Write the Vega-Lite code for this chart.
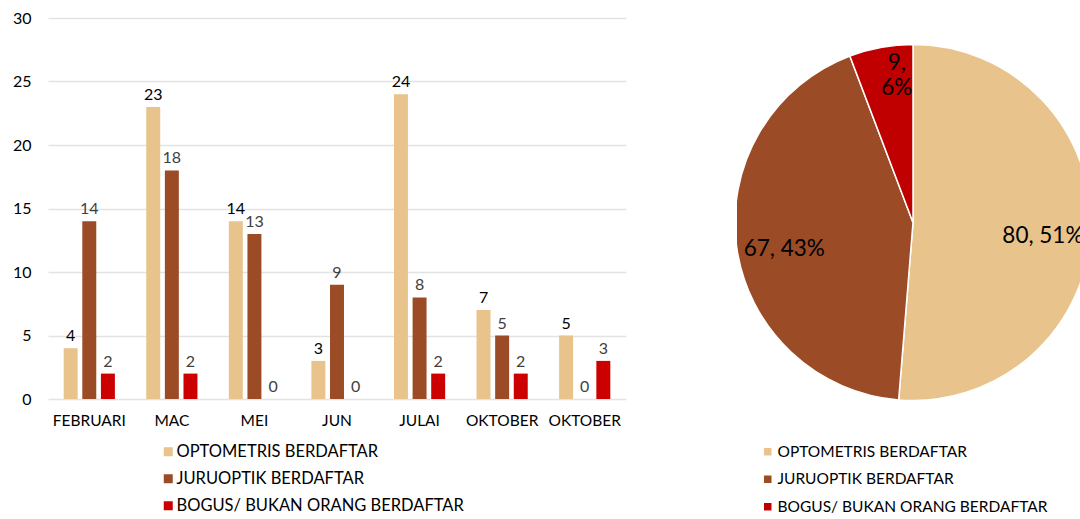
{
  "$schema": "https://vega.github.io/schema/vega-lite/v6.json",
  "padding": {"left": 12, "top": 10, "right": 0, "bottom": 0},
  "autosize": {"type": "pad"},
  "background": "white",
  "config": {"view": {"stroke": null}, "font": "Lato"},
  "bounds": "flush",
  "spacing": 111,
  "resolve": {"scale": {"color": "independent"}, "legend": {"color": "independent"}},
  "hconcat": [
    {
      "width": 578,
      "height": 381,
      "data": {"values": [
        {"bulan": "FEBRUARI", "kategori": "OPTOMETRIS BERDAFTAR", "nilai": 4},
        {"bulan": "FEBRUARI", "kategori": "JURUOPTIK BERDAFTAR", "nilai": 14},
        {"bulan": "FEBRUARI", "kategori": "BOGUS/ BUKAN ORANG BERDAFTAR", "nilai": 2},
        {"bulan": "MAC", "kategori": "OPTOMETRIS BERDAFTAR", "nilai": 23},
        {"bulan": "MAC", "kategori": "JURUOPTIK BERDAFTAR", "nilai": 18},
        {"bulan": "MAC", "kategori": "BOGUS/ BUKAN ORANG BERDAFTAR", "nilai": 2},
        {"bulan": "MEI", "kategori": "OPTOMETRIS BERDAFTAR", "nilai": 14},
        {"bulan": "MEI", "kategori": "JURUOPTIK BERDAFTAR", "nilai": 13},
        {"bulan": "MEI", "kategori": "BOGUS/ BUKAN ORANG BERDAFTAR", "nilai": 0},
        {"bulan": "JUN", "kategori": "OPTOMETRIS BERDAFTAR", "nilai": 3},
        {"bulan": "JUN", "kategori": "JURUOPTIK BERDAFTAR", "nilai": 9},
        {"bulan": "JUN", "kategori": "BOGUS/ BUKAN ORANG BERDAFTAR", "nilai": 0},
        {"bulan": "JULAI", "kategori": "OPTOMETRIS BERDAFTAR", "nilai": 24},
        {"bulan": "JULAI", "kategori": "JURUOPTIK BERDAFTAR", "nilai": 8},
        {"bulan": "JULAI", "kategori": "BOGUS/ BUKAN ORANG BERDAFTAR", "nilai": 2},
        {"bulan": "OKTOBER", "kategori": "OPTOMETRIS BERDAFTAR", "nilai": 7},
        {"bulan": "OKTOBER", "kategori": "JURUOPTIK BERDAFTAR", "nilai": 5},
        {"bulan": "OKTOBER", "kategori": "BOGUS/ BUKAN ORANG BERDAFTAR", "nilai": 2},
        {"bulan": "OKTOBER ", "kategori": "OPTOMETRIS BERDAFTAR", "nilai": 5},
        {"bulan": "OKTOBER ", "kategori": "JURUOPTIK BERDAFTAR", "nilai": 0},
        {"bulan": "OKTOBER ", "kategori": "BOGUS/ BUKAN ORANG BERDAFTAR", "nilai": 3}
      ]},
      "encoding": {
        "x": {
          "field": "bulan", "type": "nominal", "sort": null,
          "scale": {"paddingInner": 0.38, "paddingOuter": 0.19},
          "axis": {"title": null, "labelAngle": 0, "domain": false, "ticks": false, "labelFontSize": 15.5, "labelPadding": 14, "labelColor": "#000000", "labelExpr": "trim(datum.label)"}
        },
        "xOffset": {
          "field": "kategori", "type": "nominal",
          "sort": ["OPTOMETRIS BERDAFTAR", "JURUOPTIK BERDAFTAR", "BOGUS/ BUKAN ORANG BERDAFTAR"],
          "scale": {"paddingInner": 0.25, "paddingOuter": 0}
        },
        "y": {
          "field": "nilai", "type": "quantitative",
          "scale": {"domain": [0, 30]},
          "axis": {"title": null, "values": [0, 5, 10, 15, 20, 25, 30], "domain": false, "ticks": false, "gridColor": "#e3e3e3", "gridWidth": 1.5, "labelFontSize": 16, "labelPadding": 17, "labelColor": "#000000"}
        }
      },
      "layer": [
        {
          "mark": {"type": "bar"},
          "encoding": {
            "color": {
              "field": "kategori", "type": "nominal",
              "scale": {"domain": ["OPTOMETRIS BERDAFTAR", "JURUOPTIK BERDAFTAR", "BOGUS/ BUKAN ORANG BERDAFTAR"], "range": ["#E8C38B", "#9B4B26", "#CC0000"]},
              "legend": {"orient": "none", "legendX": 112, "legendY": 425.5, "title": null, "symbolType": "square", "symbolSize": 81, "symbolStrokeWidth": 0, "labelFontSize": 16.5, "labelColor": "#000000", "rowPadding": 10, "padding": 0, "labelOffset": 0, "labelLimit": 400}
            }
          }
        },
        {
          "mark": {"type": "text", "baseline": "alphabetic", "dy": -7, "fontSize": 16},
          "encoding": {
            "text": {"field": "nilai", "type": "quantitative"},
            "color": {"condition": {"test": "datum.kategori === 'OPTOMETRIS BERDAFTAR'", "value": "#000000"}, "value": "#404040"}
          }
        }
      ]
    },
    {
      "width": 352,
      "height": 409,
      "data": {"values": [
        {"kategori": "OPTOMETRIS BERDAFTAR", "nilai": 80, "label": "80, 51%"},
        {"kategori": "JURUOPTIK BERDAFTAR", "nilai": 67, "label": "67, 43%"},
        {"kategori": "BOGUS/ BUKAN ORANG BERDAFTAR", "nilai": 9, "label": "9,\n6%"}
      ]},
      "encoding": {
        "theta": {"field": "nilai", "type": "quantitative", "stack": true},
        "order": {"field": "nilai", "type": "quantitative", "sort": "descending"}
      },
      "layer": [
        {
          "mark": {"type": "arc", "outerRadius": 178, "stroke": "white", "strokeWidth": 1.5, "clip": true},
          "encoding": {
            "color": {
              "field": "kategori", "type": "nominal",
              "scale": {"domain": ["OPTOMETRIS BERDAFTAR", "JURUOPTIK BERDAFTAR", "BOGUS/ BUKAN ORANG BERDAFTAR"], "range": ["#E8C38B", "#9B4B26", "#C00000"]},
              "legend": {"orient": "none", "legendX": 23, "legendY": 426, "title": null, "symbolType": "square", "symbolSize": 56, "symbolStrokeWidth": 0, "labelFontSize": 15.5, "labelColor": "#000000", "rowPadding": 10.5, "padding": 0, "labelOffset": 2, "labelLimit": 400}
            }
          }
        },
        {
          "mark": {"type": "text", "radius": {"expr": "datum.nilai < 20 ? 162 : 130"}, "dx": {"expr": "datum.nilai < 20 ? 13 : 0"}, "dy": {"expr": "datum.nilai < 20 ? 0 : 8"}, "fontSize": 22.5, "lineBreak": "\n", "lineHeight": 25, "clip": true, "color": "#000000"},
          "encoding": {"text": {"field": "label", "type": "nominal"}}
        }
      ]
    }
  ]
}
